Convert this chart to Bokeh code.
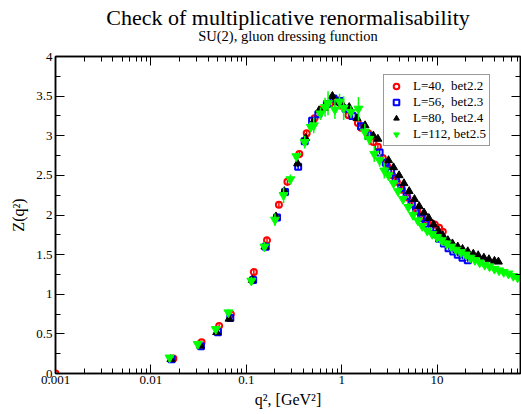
from bokeh.plotting import figure
from bokeh.models import (FixedTicker, LogAxis, LinearAxis, Title, Legend, LegendItem,
                          CustomJSTickFormatter, Range1d)
from bokeh.embed import file_html
from bokeh.resources import INLINE

FONT = "Liberation Serif"

title_text = "Check of multiplicative renormalisability"
subtitle_text = "SU(2), gluon dressing function"
x_label = "q\u00b2, [GeV\u00b2]"
y_label = "Z(q\u00b2)"

x_major = [0.001, 0.01, 0.1, 1, 10]
y_major = [0, 0.5, 1, 1.5, 2, 2.5, 3, 3.5, 4]
y_minor = [0.25, 0.75, 1.25, 1.75, 2.25, 2.75, 3.25, 3.75]
x_minor = [m * d for d in [0.001, 0.01, 0.1, 1, 10] for m in range(2, 10)]

labels = ["L=40,  bet2.2", "L=56,  bet2.3", "L=80,  bet2.4", "L=112, bet2.5"]

# L=40, beta=2.2 (red circles)
red_q2 = [0.001, 0.0172, 0.034, 0.052, 0.069, 0.12, 0.165, 0.22, 0.27, 0.36,
          0.43, 0.52, 0.62, 0.75, 0.88, 1.0, 1.18, 1.48, 1.6, 1.9,
          2.15, 2.4, 2.7, 3.0, 3.4, 3.8, 4.3, 4.9, 5.5, 6.2,
          7.0, 7.8, 8.6, 9.5, 10.5, 11.5]
red_z = [0, 0.19, 0.395, 0.6, 0.75, 1.28, 1.68, 2.13, 2.42, 2.77,
         3.03, 3.22, 3.33, 3.4, 3.45, 3.38, 3.26, 3.16, 3.1, 3.03,
         2.92, 2.86, 2.72, 2.62, 2.5, 2.42, 2.32, 2.22, 2.14, 2.06,
         1.99, 1.93, 1.9, 1.88, 1.84, 1.79]
red_err = [0, 0.01, 0.02, 0.02, 0.03, 0.03, 0.03, 0.03, 0.05, 0.03,
           0.03, 0.03, 0.04, 0.04, 0.04, 0.04, 0.03, 0.03, 0.03, 0.03,
           0.03, 0.03, 0.03, 0.03, 0.02, 0.03, 0.02, 0.02, 0.02, 0.02,
           0.02, 0.02, 0.03, 0.03, 0.02, 0.02]

# L=56, beta=2.3 (blue squares)
blue_q2 = [0.0165, 0.0335, 0.0505, 0.068, 0.118, 0.16, 0.21, 0.255, 0.35, 0.41,
           0.49, 0.57, 0.7, 0.82, 0.96, 1.1, 1.3, 1.6, 1.9, 2.5,
           2.9, 3.3, 3.7, 4.2, 4.8, 5.4, 6.0, 6.8, 7.6, 8.5,
           9.5, 10.5, 11.8, 13.2, 14.8, 16.5, 18.5, 21]
blue_z = [0.18, 0.345, 0.52, 0.7, 1.18, 1.6, 1.97, 2.29, 2.61, 2.93,
          3.19, 3.27, 3.4, 3.47, 3.44, 3.34, 3.25, 3.12, 3.0, 2.79,
          2.66, 2.56, 2.46, 2.34, 2.24, 2.14, 2.05, 1.96, 1.89, 1.82,
          1.76, 1.7, 1.64, 1.58, 1.54, 1.5, 1.46, 1.43]
blue_err = [0.01, 0.02, 0.02, 0.02, 0.03, 0.03, 0.03, 0.04, 0.03, 0.04,
            0.04, 0.04, 0.05, 0.04, 0.04, 0.04, 0.03, 0.03, 0.03, 0.03,
            0.03, 0.03, 0.02, 0.02, 0.02, 0.02, 0.02, 0.02, 0.02, 0.02,
            0.02, 0.02, 0.02, 0.02, 0.02, 0.02, 0.02, 0.02]

# L=80, beta=2.4 (black triangles)
black_q2 = [0.0162, 0.033, 0.049, 0.066, 0.115, 0.157, 0.205, 0.25, 0.345, 0.42,
            0.5, 0.58, 0.66, 0.8, 0.9, 1.0, 1.2, 1.45, 1.76, 2.15,
            2.4, 3.1, 3.5, 4.0, 4.5, 5.1, 5.8, 6.5, 7.3, 8.2,
            9.2, 10.3, 11.5, 13, 14.5, 16.5, 18.5, 21, 24, 27,
            31, 35, 40, 44]
black_z = [0.18, 0.35, 0.52, 0.69, 1.18, 1.6, 1.98, 2.3, 2.65, 2.97,
           3.17, 3.32, 3.35, 3.5, 3.42, 3.41, 3.36, 3.22, 3.13, 3.0,
           2.96, 2.69, 2.6, 2.5, 2.4, 2.3, 2.2, 2.11, 2.03, 1.96,
           1.88, 1.8, 1.74, 1.68, 1.64, 1.6, 1.57, 1.54, 1.51, 1.49,
           1.46, 1.44, 1.42, 1.41]
black_err = [0.01, 0.02, 0.02, 0.02, 0.03, 0.03, 0.03, 0.03, 0.04, 0.04,
             0.04, 0.04, 0.05, 0.05, 0.04, 0.04, 0.04, 0.03, 0.03, 0.03,
             0.03, 0.03, 0.03, 0.02, 0.02, 0.02, 0.02, 0.02, 0.02, 0.02,
             0.02, 0.02, 0.02, 0.02, 0.02, 0.02, 0.02, 0.02, 0.02, 0.02,
             0.02, 0.02, 0.02, 0.02]

# L=112, beta=2.5 (green inverted triangles)
green_q2 = [0.0157, 0.031, 0.048, 0.065, 0.113, 0.155, 0.2, 0.246, 0.29, 0.335,
            0.41, 0.475, 0.51, 0.6, 0.67, 0.72, 0.85, 0.95, 1.05, 1.25,
            1.5, 1.75, 1.95, 2.2, 2.5, 2.8, 3.1, 3.5, 3.9, 4.4,
            5.0, 5.6, 6.3, 7.0, 7.9, 8.9, 10, 11.2, 12.6, 14.1,
            15.8, 17.8, 20, 22.4, 25, 28, 31.6, 35.5, 40, 44.7,
            50, 56, 63, 70, 78]
green_z = [0.2, 0.37, 0.56, 0.77, 1.17, 1.6, 1.94, 2.25, 2.45, 2.74,
           2.92, 3.11, 3.13, 3.28, 3.36, 3.41, 3.33, 3.43, 3.35, 3.3,
           3.34, 3.05, 2.96, 2.77, 2.69, 2.56, 2.5, 2.4, 2.3, 2.2,
           2.1, 2.0, 1.93, 1.86, 1.8, 1.76, 1.72, 1.68, 1.64, 1.6,
           1.56, 1.53, 1.5, 1.46, 1.43, 1.4, 1.37, 1.35, 1.32, 1.3,
           1.28, 1.26, 1.23, 1.21, 1.19]
green_err = [0.03, 0.05, 0.03, 0.04, 0.05, 0.06, 0.08, 0.1, 0.06, 0.04,
             0.08, 0.06, 0.1, 0.08, 0.12, 0.15, 0.12, 0.1, 0.15, 0.08,
             0.15, 0.1, 0.08, 0.1, 0.08, 0.1, 0.06, 0.05, 0.06, 0.05,
             0.05, 0.06, 0.05, 0.04, 0.05, 0.04, 0.04, 0.05, 0.04, 0.03,
             0.04, 0.03, 0.03, 0.03, 0.03, 0.03, 0.02, 0.03, 0.02, 0.02,
             0.03, 0.02, 0.02, 0.02, 0.02]

p = figure(width=521, height=414, x_axis_type="log",
           x_range=Range1d(0.001, 75), y_range=Range1d(0, 4),
           output_backend="svg", toolbar_location=None,
           min_border_left=55, min_border_right=1, min_border_top=56, min_border_bottom=41)
p.grid.visible = False
p.outline_line_color = "black"
p.outline_line_width = 1.5
p.background_fill_color = "white"
p.border_fill_color = "white"


def style_axis(ax, show_labels, major_ticks, minor_ticks):
    ax.ticker = FixedTicker(ticks=major_ticks, minor_ticks=minor_ticks)
    ax.axis_line_color = "black"
    ax.axis_line_width = 1.5
    ax.major_tick_in = 9
    ax.major_tick_out = 0
    ax.minor_tick_in = 5
    ax.minor_tick_out = 0
    ax.major_tick_line_color = "black"
    ax.minor_tick_line_color = "black"
    ax.major_tick_line_width = 1
    ax.minor_tick_line_width = 1
    ax.axis_label_text_font = FONT
    ax.axis_label_text_font_style = "normal"
    ax.axis_label_text_color = "black"
    if show_labels:
        ax.formatter = CustomJSTickFormatter(code="return tick.toString();")
        ax.major_label_text_font = FONT
        ax.major_label_text_font_size = "13px"
        ax.major_label_text_color = "black"
        ax.major_label_standoff = 3
        ax.axis_label_text_font_size = "16px"
        ax.axis_label_standoff = 6
    else:
        ax.major_label_text_font_size = "1px"
        ax.major_label_text_alpha = 0
        ax.major_label_standoff = 0


xax = p.xaxis[0]
yax = p.yaxis[0]
style_axis(xax, True, x_major, x_minor)
style_axis(yax, True, y_major, y_minor)
xax.axis_label = x_label
yax.axis_label = y_label
xax.major_label_standoff = 2
xax.axis_label_standoff = 4

# top mirror axis carries the subtitle as its label
top_ax = LogAxis()
style_axis(top_ax, False, x_major, x_minor)
top_ax.axis_label = subtitle_text
top_ax.axis_label_text_font_size = "14.5px"
top_ax.axis_label_standoff = 13
p.add_layout(top_ax, "above")
right_ax = LinearAxis()
style_axis(right_ax, False, y_major, y_minor)
p.add_layout(right_ax, "right")

p.add_layout(Title(text=title_text, align="center", text_font=FONT, text_font_size="22px",
                   text_font_style="normal", text_color="black", standoff=-10), "above")

series = [
    (red_q2, red_z, red_err, "red"),
    (blue_q2, blue_z, blue_err, "blue"),
    (black_q2, black_z, black_err, "black"),
    (green_q2, green_z, green_err, "lime"),
]
renderers = []
for q2, z, err, col in series:
    lo = [a - b for a, b in zip(z, err)]
    hi = [a + b for a, b in zip(z, err)]
    p.segment(x0=q2, y0=lo, x1=q2, y1=hi, line_color=col, line_width=1.5)
    if col == "red":
        r = p.scatter(q2, z, marker="circle", size=6, fill_color="white", fill_alpha=0,
                      line_color=col, line_width=2)
    elif col == "blue":
        r = p.scatter(q2, z, marker="square", size=6, fill_color="white", fill_alpha=0,
                      line_color=col, line_width=2)
    elif col == "black":
        r = p.scatter(q2, z, marker="triangle", size=8, fill_color=col, line_color=col)
    else:
        r = p.scatter(q2, z, marker="inverted_triangle", size=9, fill_color=col, line_color=col)
    renderers.append(r)

legend = Legend(items=[LegendItem(label=lab, renderers=[r]) for lab, r in zip(labels, renderers)],
                location=(328, 227), margin=0, padding=3, spacing=-4,
                glyph_width=18, glyph_height=14, label_height=14, label_standoff=8,
                label_text_font=FONT, label_text_font_size="13px", label_text_color="black",
                border_line_color="#333333", border_line_width=1, background_fill_color="white",
                background_fill_alpha=1)
p.add_layout(legend, "center")

open("out.html", "w").write(file_html(p, INLINE))
